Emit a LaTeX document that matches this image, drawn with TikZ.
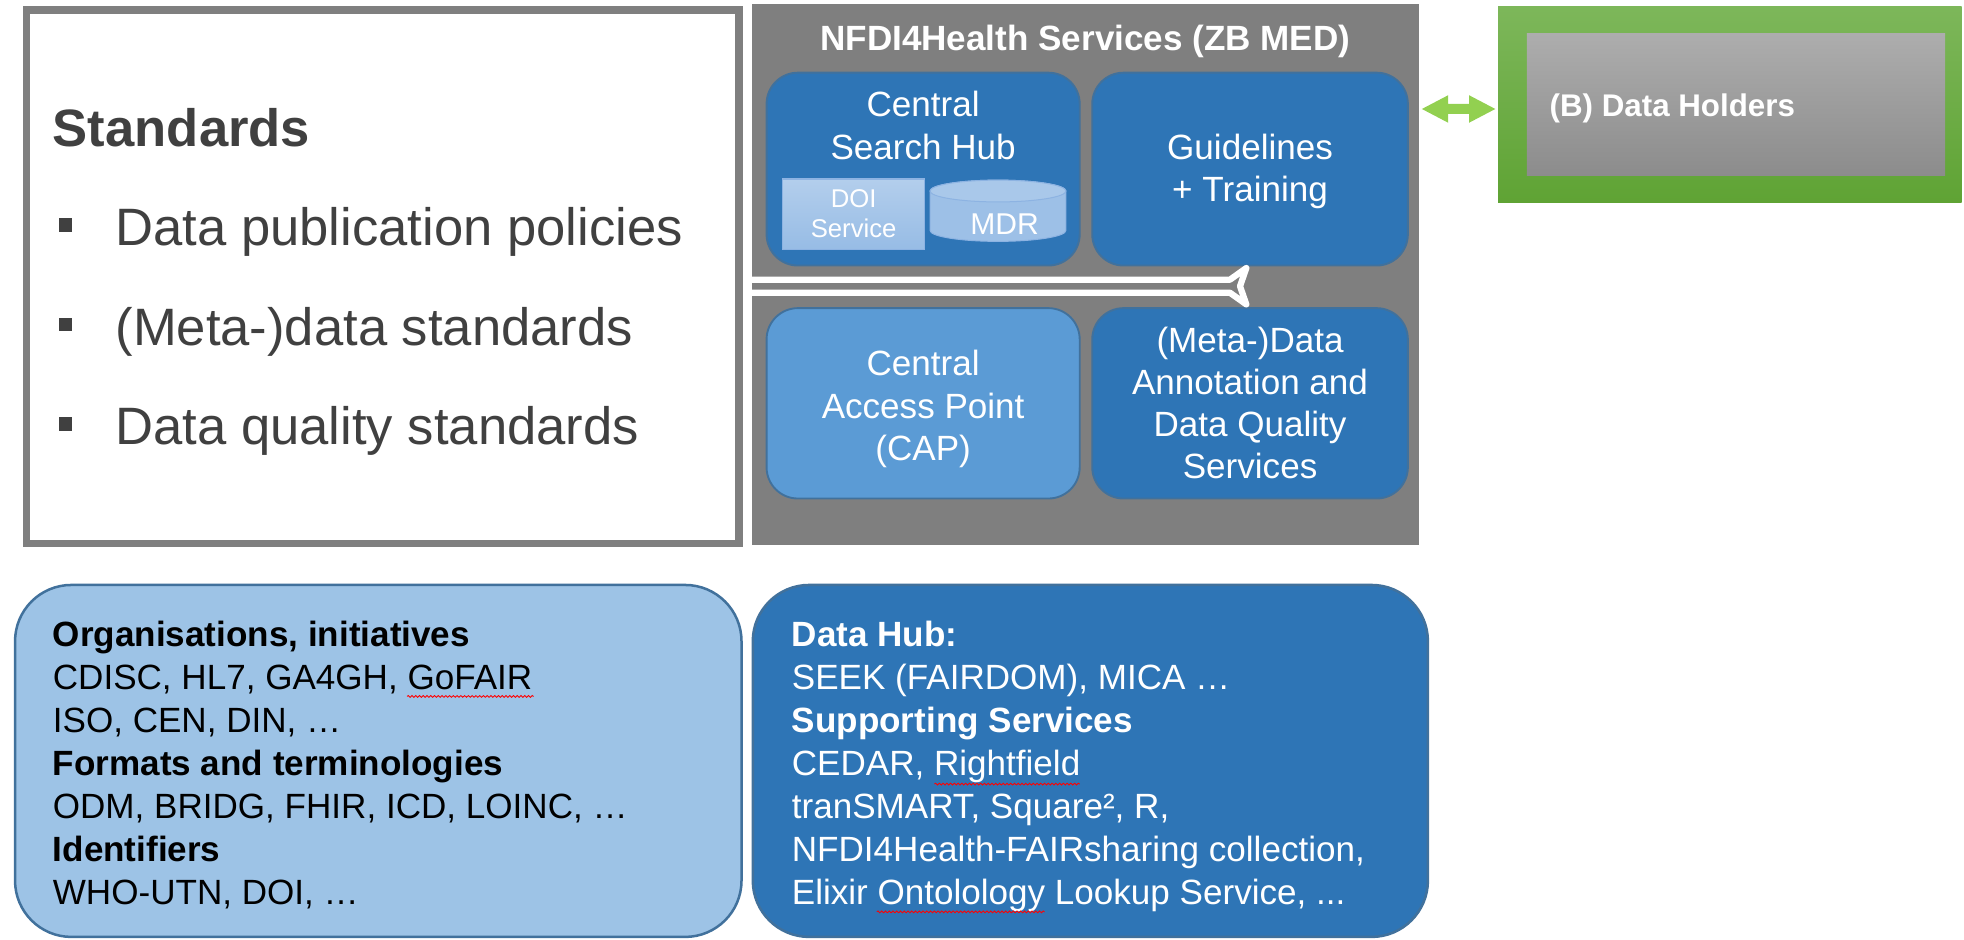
\documentclass[tikz,border=0pt]{standalone}
\usepackage{fontspec}
\setmainfont{Liberation Sans}
\usetikzlibrary{calc,decorations.pathmorphing}
\definecolor{pgray}{HTML}{7F7F7F}
\definecolor{dblue}{HTML}{2E75B6}
\definecolor{mblue}{HTML}{5B9BD5}
\definecolor{lblue}{HTML}{9DC3E6}
\definecolor{bstroke}{HTML}{41719C}
\definecolor{txtgray}{HTML}{404040}
\definecolor{agreen}{HTML}{92D050}
\definecolor{gtop}{HTML}{7DB75A}
\definecolor{gbot}{HTML}{5FA334}
\definecolor{htop}{HTML}{ADADAD}
\definecolor{hbot}{HTML}{8C8C8C}
\definecolor{doitop}{HTML}{B3CEEC}
\definecolor{doibot}{HTML}{97BCE5}
\definecolor{dstroke}{HTML}{8DB3E2}
\definecolor{mdrcol}{HTML}{9DC0E7}
\definecolor{mdrtop}{HTML}{A9C8EA}
\newcommand\myfs[1]{\fontsize{#1}{#1}\selectfont}
\newcommand\blockL[2]{\vtop{\baselineskip=#1\relax\lineskiplimit=-\maxdimen\lineskip=0pt\halign{##\hfil\cr#2\crcr}}}
\newcommand\blockC[2]{\vtop{\baselineskip=#1\relax\lineskiplimit=-\maxdimen\lineskip=0pt\halign{\hfil##\hfil\cr#2\crcr}}}
\newcommand\sqbul{\hspace*{5pt}\rlap{\rule[11pt]{10pt}{11pt}}\hspace*{45pt}}
\begin{document}
\begin{tikzpicture}[x=1pt,y=-1pt,
  svc/.style={draw=bstroke, line width=1.5pt, fill=dblue, rounded corners=25pt, inner sep=0pt, minimum width=250pt, minimum height=154pt},
  wt/.style={text=white, inner sep=0pt, font=\myfs{28}},
  bigbox/.style={draw=bstroke, line width=2pt, rounded corners=45pt, inner sep=0pt, minimum height=281pt},
  wave/.style={red, line width=0.7pt, decorate, decoration={snake, amplitude=0.7pt, segment length=3pt}}]
\useasboundingbox (0,0) rectangle (1568,750.4);
\fill[white] (0,0) rectangle (1568,750.4);

% Standards box
\node[draw=pgray, line width=6pt, fill=white, inner sep=0pt, minimum width=569pt, minimum height=426pt] (std) at (305.5,221) {};
\node[anchor=base west, inner sep=0pt, text=txtgray, font=\myfs{42}] (stdtxt) at (42,117)
  {\blockL{79.3pt}{\textbf{Standards}\cr \sqbul Data publication policies\cr \sqbul (Meta-)data standards\cr \sqbul Data quality standards\cr}};

% Services panel
\node[fill=pgray, inner sep=0pt, minimum width=533pt, minimum height=432pt] (panel) at (866.5,219) {};
\node[anchor=base, text=white, inner sep=0pt, font=\myfs{28}\bfseries] (ptitle) at (866.5,40) {NFDI4Health Services (ZB MED)};

\node[svc] (csh) at (737,135) {};
\node[svc, minimum width=252pt] (guide) at (998,135) {};
\node[svc, fill=mblue, minimum height=152pt] (cap) at (737,322) {};
\node[svc, minimum width=252pt, minimum height=152pt] (meta) at (998,322) {};

\node[wt, anchor=base] (cshtxt) at (737,93) {\blockC{34pt}{Central\cr Search Hub\cr}};
\node[wt, anchor=base] (guidetxt) at (998,127) {\blockC{34pt}{Guidelines\cr + Training\cr}};
\node[wt, anchor=base] (captxt) at (737,300) {\blockC{33.8pt}{Central\cr Access Point\cr (CAP)\cr}};
\node[wt, anchor=base] (metatxt) at (998,281.5) {\blockC{33.6pt}{(Meta-)Data\cr Annotation and\cr Data Quality\cr Services\cr}};

% DOI box
\node[draw=dstroke, line width=1pt, top color=doitop, bottom color=doibot, inner sep=0pt, minimum width=113pt, minimum height=56pt] (doi) at (681.5,171) {};
\node[anchor=base, text=white, inner sep=0pt, font=\myfs{20.5}] (doitxt) at (681.5,166) {\blockC{24pt}{DOI\cr Service\cr}};

% MDR cylinder
\coordinate (mdr) at (796.75,152.5);
\path[draw=dstroke, line width=0.8pt, fill=mdrcol] ($(mdr)+(-54.25,0)$) -- ($(mdr)+(-54.25,31.5)$) arc[start angle=180, end angle=0, x radius=54.25, y radius=8.7] -- ($(mdr)+(54.25,0)$) arc[start angle=0, end angle=-180, x radius=54.25, y radius=8.7] -- cycle;
\draw[dstroke, line width=0.8pt, fill=mdrtop] (mdr) ellipse[x radius=54.25, y radius=8.7];
\node[anchor=base, text=white, inner sep=0pt, font=\myfs{24}] (mdrtxt) at (802,187) {MDR};

% white double arrow
\coordinate (aS) at (600,228.5);
\coordinate (aE) at (997,228.5);
\draw[white, line width=5pt, line join=round] ($(aS)+(0,-5.25)$) -- ($(aE)+(-15,-5.25)$) -- ($(aE)+(-2,-14.5)$) -- ($(aE)+(-7,0)$) -- ($(aE)+(-2,14.5)$) -- ($(aE)+(-15,5.25)$) -- ($(aS)+(0,5.25)$);

% Data holders
\node[inner sep=0pt, minimum width=370pt, minimum height=157pt, top color=gtop, bottom color=gbot] (holders) at (1381,83.5) {};
\node[inner sep=0pt, minimum width=334pt, minimum height=113pt, top color=htop, bottom color=hbot] (hinner) at (1386,83.5) {};
\node[anchor=base west, text=white, inner sep=0pt, font=\myfs{25}\bfseries] (htxt) at (1237,93) {(B) Data Holders};

% green double arrow
\coordinate (gL) at ($(panel.east |- 0,87)+(2,0)$);
\coordinate (gR) at ($(holders.west |- 0,87)+(-2,0)$);
\fill[agreen] (gL) -- ++(21,-11) -- ++(0,7) -- ($(gR)+(-21,-4)$) -- ++(0,-7) -- (gR) -- ++(-21,11) -- ++(0,-7) -- ($(gL)+(21,4)$) -- ++(0,7) -- cycle;

% bottom boxes
\node[bigbox, fill=lblue, minimum width=580pt] (orgs) at (302,607.5) {};
\node[bigbox, fill=dblue, minimum width=539pt] (hub) at (870.5,607.5) {};
\node[anchor=base west, inner sep=0pt, font=\myfs{28}] (orgtxt) at (42,516)
  {\blockL{34.3pt}{\textbf{Organisations, initiatives}\cr CDISC, HL7, GA4GH, GoFAIR\cr ISO, CEN, DIN, …\cr \textbf{Formats and terminologies}\cr ODM, BRIDG, FHIR, ICD, LOINC, …\cr \textbf{Identifiers}\cr WHO-UTN, DOI, …\cr}};
\node[anchor=base west, inner sep=0pt, text=white, font=\myfs{28}] (hubtxt) at (632,516)
  {\blockL{34.3pt}{\textbf{Data Hub:}\cr SEEK (FAIRDOM), MICA …\cr \textbf{Supporting Services}\cr CEDAR, Rightfield\cr tranSMART, Square², R,\cr NFDI4Health-FAIRsharing collection,\cr Elixir Ontolology Lookup Service, ...\cr}};

% spell-check waves
\draw[wave] (325,556) -- (426,556);
\draw[wave] (746,626) -- (862,626);
\draw[wave] (700,728) -- (834,728);
\end{tikzpicture}
\end{document}
